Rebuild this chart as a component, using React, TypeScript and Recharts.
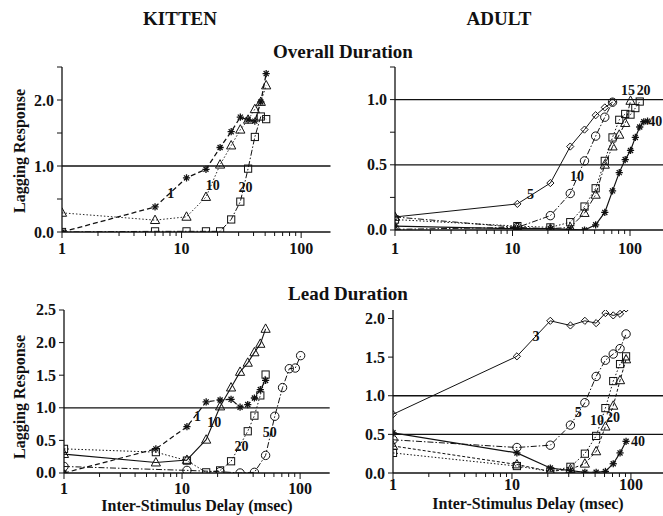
import React from 'react';
import { ComposedChart, Line, Scatter, XAxis, YAxis, ReferenceLine } from 'recharts';

const FONT = '"Liberation Serif", "Times New Roman", serif';
const INK = '#111';

// Kitten - overall duration (stimulus durations 1, 10, 20 ms)
const TL_DELAY = [1, 6, 11, 16, 21, 26, 31, 36, 41, 46, 51];
const TL_DUR1 = [0.0, 0.38, 0.82, 0.95, 1.28, 1.52, 1.74, 1.7, 1.68, 1.97, 2.4];
const TL_DUR10 = [0.29, 0.18, 0.23, 0.53, 1.02, 1.31, 1.55, 1.7, 1.86, 1.97, 2.22];
const TL_DUR20 = [0.0, 0.01, 0.01, 0.01, 0.01, 0.19, 0.46, 0.96, 1.44, 1.75, 1.71];

// Adult - overall duration (5, 10, 15, 20, 40 ms)
const TR_DELAY_A = [1, 11, 21, 31, 41, 51, 61, 71];
const TR_DUR5 = [0.1, 0.2, 0.36, 0.64, 0.77, 0.88, 0.94, 0.98];
const TR_DUR10 = [0.005, 0.02, 0.11, 0.28, 0.53, 0.72, 0.865, 0.98];
const TR_DELAY_15 = [1, 11, 21, 31, 41, 51, 61, 71, 81, 91, 101];
const TR_DUR15 = [0.1, 0.02, 0.01, 0.02, 0.13, 0.27, 0.5, 0.64, 0.73, 0.82, 0.99];
const TR_DELAY_20 = [1, 11, 21, 31, 41, 51, 61, 71, 81, 91, 101, 111, 121];
const TR_DUR20 = [0.08, 0.03, 0.02, 0.06, 0.18, 0.32, 0.53, 0.71, 0.845, 0.89, 0.885, 0.935, 0.985];
const TR_DELAY_40 = [1, 11, 21, 31, 41, 51, 61, 71, 81, 91, 101, 111, 121, 131, 141];
const TR_DUR40 = [0.03, 0.01, 0.01, 0.005, 0.0, 0.04, 0.135, 0.3, 0.44, 0.54, 0.61, 0.71, 0.79, 0.83, 0.835];

// Kitten - lead duration (1, 10, 20, 50 ms)
const BL_DELAY = [1, 6, 11, 16, 21, 26, 31, 36, 41, 46, 51];
const BL_LEAD1 = [0.0, 0.37, 0.71, 1.09, 1.12, 1.13, 1.01, 1.05, 1.15, 1.28, 1.42];
const BL_LEAD10 = [0.29, 0.16, 0.2, 0.51, 1.02, 1.31, 1.55, 1.69, 1.85, 1.98, 2.21];
const BL_DELAY_20 = [1, 6, 11, 16, 21, 26, 36, 41, 46, 51];
const BL_LEAD20 = [0.37, 0.32, 0.19, 0.01, 0.04, 0.18, 0.64, 0.88, 1.19, 1.51];
const BL_DELAY_50 = [1, 11, 21, 31, 41, 51, 61, 71, 81, 91, 101];
const BL_LEAD50 = [0.1, 0.04, 0.02, 0.0, 0.01, 0.27, 0.87, 1.31, 1.6, 1.61, 1.8];

// Adult - lead duration (3, 5, 10, 20, 40 ms)
const BR_DELAY = [1, 11, 21, 31, 41, 51, 61, 71, 81, 91];
const BR_LEAD3 = [0.76, 1.51, 1.97, 1.91, 1.97, 1.94, 2.07, 2.04, 2.06, 2.13];
const BR_LEAD5 = [0.43, 0.33, 0.36, 0.62, 0.91, 1.25, 1.46, 1.54, 1.61, 1.8];
const BR_LEAD10 = [0.26, 0.09, 0.02, 0.08, 0.25, 0.48, 0.84, 1.19, 1.41, 1.51];
const BR_LEAD20 = [0.35, 0.11, 0.02, 0.05, 0.12, 0.28, 0.6, 0.87, 1.2, 1.47];
const BR_LEAD40 = [0.52, 0.26, 0.065, 0.03, 0.01, 0.01, 0.02, 0.12, 0.26, 0.41];

// curve labels (data coordinates)
const TL_LABELS = [
  { x: 8.1, y: 0.59, t: '1' },
  { x: 18.2, y: 0.71, t: '10' },
  { x: 34.3, y: 0.68, t: '20' },
];
const TR_LABELS = [
  { x: 14.2, y: 0.275, t: '5' },
  { x: 35.4, y: 0.41, t: '10' },
  { x: 96, y: 1.066, t: '15' },
  { x: 130.6, y: 1.066, t: '20' },
  { x: 164, y: 0.829, t: '40' },
];
const BL_LABELS = [
  { x: 13.5, y: 0.874, t: '1' },
  { x: 18.7, y: 0.77, t: '10' },
  { x: 31.9, y: 0.4, t: '20' },
  { x: 55.3, y: 0.62, t: '50' },
];
const BR_LABELS = [
  { x: 15.9, y: 1.77, t: '3' },
  { x: 36.1, y: 0.78, t: '5' },
  { x: 51.8, y: 0.685, t: '10' },
  { x: 70.6, y: 0.72, t: '20' },
  { x: 114.5, y: 0.405, t: '40' },
];

const LOG_TICKS = [1, 2, 3, 4, 5, 6, 7, 8, 9, 10, 20, 30, 40, 50, 60, 70, 80, 90, 100, 200];
const MAJOR = [1, 10, 100];

type Kind = 'star' | 'tri' | 'sq' | 'circ' | 'dia';
type Series = { xs: number[]; ys: number[]; kind: Kind; dash?: string; width?: number };

const pts = (xs: number[], ys: number[]) => xs.map((x, i) => ({ x, y: ys[i] }));

const Marker = ({ cx, cy, kind }: { cx: number; cy: number; kind: Kind }) => {
  const s = { stroke: INK, strokeWidth: 1, fill: 'none' };
  if (kind === 'star') {
    const r = 3.6;
    return (
      <g stroke={INK} strokeWidth={1.3}>
        <line x1={cx - r} y1={cy} x2={cx + r} y2={cy} />
        <line x1={cx} y1={cy - r} x2={cx} y2={cy + r} />
        <line x1={cx - r * 0.7} y1={cy - r * 0.7} x2={cx + r * 0.7} y2={cy + r * 0.7} />
        <line x1={cx - r * 0.7} y1={cy + r * 0.7} x2={cx + r * 0.7} y2={cy - r * 0.7} />
      </g>
    );
  }
  if (kind === 'tri') {
    return <polygon points={`${cx},${cy - 5} ${cx - 4.6},${cy + 3.4} ${cx + 4.6},${cy + 3.4}`} {...s} />;
  }
  if (kind === 'sq') return <rect x={cx - 3.6} y={cy - 3.6} width={7.2} height={7.2} {...s} />;
  if (kind === 'circ') return <circle cx={cx} cy={cy} r={4.2} {...s} />;
  return <polygon points={`${cx},${cy - 3.6} ${cx + 3.6},${cy} ${cx},${cy + 3.6} ${cx - 3.6},${cy}`} {...s} />;
};

const renderDot = (kind: Kind) => (p: any) => {
  if (p.cx == null || p.cy == null) return <g key={`e-${p.index}`} />;
  return <Marker key={`m-${p.index}`} cx={p.cx} cy={p.cy} kind={kind} />;
};

const renderLabel = (p: any) => (
  <text
    x={p.cx}
    y={p.cy}
    textAnchor="middle"
    dominantBaseline="central"
    fontFamily={FONT}
    fontWeight="bold"
    fontSize={14}
    fill={INK}
  >
    {p.payload.t}
  </text>
);

const makeXTick = (labelDy: number) => (props: any) => {
  const { x, y, payload } = props;
  const major = MAJOR.includes(payload.value);
  return (
    <g>
      <line x1={x} x2={x} y1={y} y2={y + (major ? 6 : 4)} stroke={INK} strokeWidth={1} />
      {major && (
        <text x={x} y={y + labelDy} textAnchor="middle" fontFamily={FONT} fontWeight="bold" fontSize={16} fill={INK}>
          {payload.value}
        </text>
      )}
    </g>
  );
};

const makeYTick = (labeled: number[]) => (props: any) => {
  const { x, y, payload } = props;
  const show = labeled.some((v) => Math.abs(v - payload.value) < 1e-6);
  return (
    <g>
      <line x1={x} x2={x - 5} y1={y} y2={y} stroke={INK} strokeWidth={1} />
      {show && (
        <text x={x - 8} y={y + 5.5} textAnchor="end" fontFamily={FONT} fontWeight="bold" fontSize={16} fill={INK}>
          {payload.value.toFixed(1)}
        </text>
      )}
    </g>
  );
};

const YW = 52;
const MT = 10;
const MR = 8;
const XH = 30;

type PanelProps = {
  box: { left: number; top: number; right: number; bottom: number };
  xMax: number;
  yMax: number;
  yTicks: number[];
  yLabeled: number[];
  refs: number[];
  series: Series[];
  labels: { x: number; y: number; t: string }[];
  labelDy: number;
};

const Panel = ({ box, xMax, yMax, yTicks, yLabeled, refs, series, labels, labelDy }: PanelProps) => {
  const w = box.right - box.left + YW + MR;
  const h = box.bottom - box.top + MT + XH;
  return (
    <div style={{ position: 'absolute', left: box.left - YW, top: box.top - MT }}>
      <ComposedChart width={w} height={h} margin={{ top: MT, right: MR, bottom: 0, left: 0 }}>
        <XAxis
          dataKey="x"
          type="number"
          scale="log"
          domain={[1, xMax]}
          allowDataOverflow
          ticks={LOG_TICKS.filter((t) => t <= xMax)}
          interval={0}
          tick={makeXTick(labelDy)}
          tickLine={false}
          tickSize={0}
          tickMargin={0}
          height={XH}
          axisLine={{ stroke: INK, strokeWidth: 1.3 }}
        />
        <YAxis
          type="number"
          domain={[0, yMax]}
          allowDataOverflow
          ticks={yTicks}
          interval={0}
          tick={makeYTick(yLabeled)}
          tickLine={false}
          tickSize={0}
          tickMargin={0}
          width={YW}
          axisLine={{ stroke: INK, strokeWidth: 1.3 }}
        />
        {refs.map((r) => (
          <ReferenceLine key={r} y={r} stroke={INK} strokeWidth={1.3} />
        ))}
        {series.map((s, i) => (
          <Line
            key={i}
            data={pts(s.xs, s.ys)}
            dataKey="y"
            type="linear"
            stroke={INK}
            strokeWidth={s.width ?? 1}
            strokeDasharray={s.dash}
            dot={renderDot(s.kind)}
            activeDot={false}
            isAnimationActive={false}
          />
        ))}
        <Scatter data={labels} dataKey="y" shape={renderLabel} isAnimationActive={false} />
      </ComposedChart>
    </div>
  );
};

const Title = ({ cx, cy, size, children, rotate }: any) => (
  <div
    style={{
      position: 'absolute',
      left: cx,
      top: cy,
      transform: `translate(-50%, -50%)${rotate ? ' rotate(-90deg)' : ''}`,
      whiteSpace: 'nowrap',
      fontFamily: FONT,
      fontWeight: 'bold',
      fontSize: size,
      color: INK,
      lineHeight: 1,
    }}
  >
    {children}
  </div>
);

const DASH = '5 3';
const DOT = '1.5 2';
const DASHDOT = '6 2 1.5 2';

export default function App() {
  return (
    <div
      style={{
        position: 'absolute',
        left: 0,
        top: 0,
        width: 663,
        height: 516,
        overflow: 'hidden',
        background: '#fff',
      }}
    >
      <Title cx={180} cy={18} size={19}>KITTEN</Title>
      <Title cx={499} cy={18} size={19}>ADULT</Title>
      <Title cx={343} cy={51} size={19}>Overall Duration</Title>
      <Title cx={348} cy={293} size={19}>Lead Duration</Title>
      <Title cx={20} cy={151} size={16} rotate>Lagging Response</Title>
      <Title cx={20} cy={397} size={16} rotate>Lagging Response</Title>

      <Panel
        box={{ left: 61.5, top: 67, right: 330, bottom: 232 }}
        xMax={176}
        yMax={2.5}
        yTicks={[0, 0.5, 1, 1.5, 2, 2.5]}
        yLabeled={[0, 1, 2]}
        refs={[1]}
        labels={TL_LABELS}
        labelDy={21.5}
        series={[
          { xs: TL_DELAY, ys: TL_DUR20, kind: 'sq', dash: DASHDOT },
          { xs: TL_DELAY, ys: TL_DUR10, kind: 'tri', dash: DOT, width: 0.9 },
          { xs: TL_DELAY, ys: TL_DUR1, kind: 'star', dash: DASH, width: 1.3 },
        ]}
      />
      <Panel
        box={{ left: 394.7, top: 67, right: 663, bottom: 230 }}
        xMax={192}
        yMax={1.25}
        yTicks={[0, 0.25, 0.5, 0.75, 1, 1.25]}
        yLabeled={[0, 0.5, 1]}
        refs={[0.5, 1]}
        labels={TR_LABELS}
        labelDy={24}
        series={[
          { xs: TR_DELAY_A, ys: TR_DUR5, kind: 'dia' },
          { xs: TR_DELAY_A, ys: TR_DUR10, kind: 'circ', dash: DASHDOT },
          { xs: TR_DELAY_15, ys: TR_DUR15, kind: 'tri', dash: DASHDOT },
          { xs: TR_DELAY_20, ys: TR_DUR20, kind: 'sq', dash: DOT },
          { xs: TR_DELAY_40, ys: TR_DUR40, kind: 'star', width: 1.2 },
        ]}
      />
      <Panel
        box={{ left: 64.3, top: 310, right: 330, bottom: 473 }}
        xMax={178}
        yMax={2.5}
        yTicks={[0, 0.5, 1, 1.5, 2, 2.5]}
        yLabeled={[0, 0.5, 1, 1.5, 2, 2.5]}
        refs={[1]}
        labels={BL_LABELS}
        labelDy={21}
        series={[
          { xs: BL_DELAY_50, ys: BL_LEAD50, kind: 'circ', dash: DASHDOT },
          { xs: BL_DELAY_20, ys: BL_LEAD20, kind: 'sq', dash: DOT },
          { xs: BL_DELAY, ys: BL_LEAD10, kind: 'tri', width: 1.1 },
          { xs: BL_DELAY, ys: BL_LEAD1, kind: 'star', dash: DASH, width: 1.2 },
        ]}
      />
      <Panel
        box={{ left: 393, top: 310, right: 663, bottom: 473 }}
        xMax={186}
        yMax={2.11}
        yTicks={[0, 0.5, 1, 1.5, 2]}
        yLabeled={[0, 0.5, 1, 1.5, 2]}
        refs={[0.5, 1]}
        labels={BR_LABELS}
        labelDy={17}
        series={[
          { xs: BR_DELAY, ys: BR_LEAD3, kind: 'dia' },
          { xs: BR_DELAY, ys: BR_LEAD5, kind: 'circ', dash: DASHDOT },
          { xs: BR_DELAY, ys: BR_LEAD10, kind: 'sq', dash: DOT },
          { xs: BR_DELAY, ys: BR_LEAD20, kind: 'tri', dash: '3 2' },
          { xs: BR_DELAY, ys: BR_LEAD40, kind: 'star', width: 1.2 },
        ]}
      />

      <Title cx={197} cy={506} size={16}>Inter-Stimulus Delay (msec)</Title>
      <Title cx={528} cy={504} size={16}>Inter-Stimulus Delay (msec)</Title>
    </div>
  );
}
